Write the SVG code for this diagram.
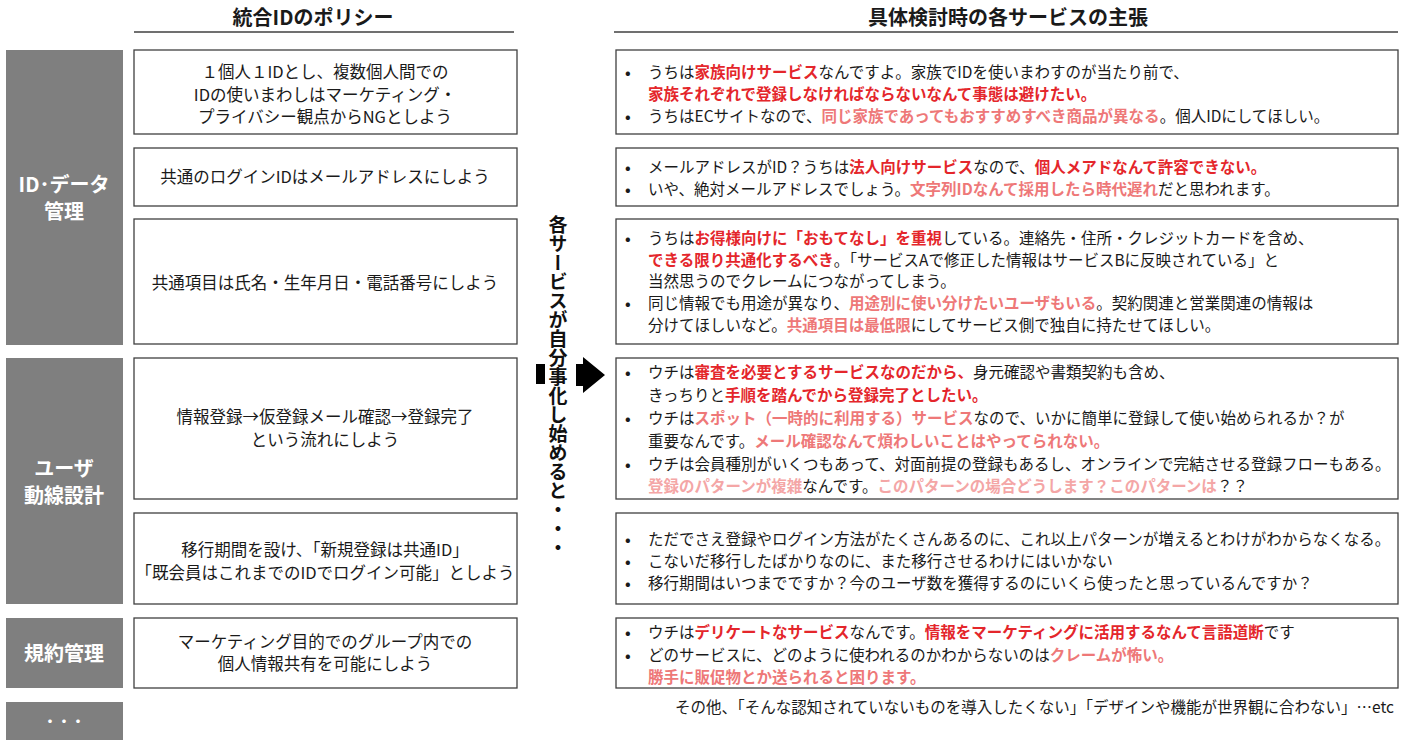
<svg xmlns="http://www.w3.org/2000/svg" width="1408" height="747" viewBox="0 0 1408 747">
<style>
text{font-family:"Noto Sans CJK JP","Liberation Sans",sans-serif}
.hd{font-size:20px;font-weight:bold;fill:#1a1a1a;text-anchor:middle}
.hl{stroke:#404040;stroke-width:1.5}
.cat{fill:#7f7f7f}
.ct{fill:#fff;font-weight:bold;font-size:20px;text-anchor:middle}
.box{fill:#fff;stroke:#404040;stroke-width:1.3}
.pt{font-size:16.5px;text-anchor:middle;fill:#1a1a1a}
.rt{font-size:15.5px;fill:#1a1a1a}
.bl{font-size:15px;font-weight:bold;fill:#1a1a1a}
.r{fill:#e4262b;font-weight:bold}
.p{fill:#ee7878;font-weight:bold}
.l{fill:#f4a6a6;font-weight:bold}
.vt{font-size:19px;font-weight:bold;fill:#111;writing-mode:vertical-rl}
</style>

<g id="headers">
<text class="hd" x="313" y="25">統合IDのポリシー</text>
<line class="hl" x1="134" y1="32" x2="514" y2="32"/>
<text class="hd" x="1008" y="25">具体検討時の各サービスの主張</text>
<line class="hl" x1="614" y1="32" x2="1398" y2="32"/>
</g>

<g id="cat-id">
<rect class="cat" x="6" y="50" width="117" height="295"/>
<text class="ct" x="64" y="192">ID･データ</text>
<text class="ct" x="64" y="219">管理</text>
</g>
<g id="cat-user">
<rect class="cat" x="6" y="358" width="117" height="246"/>
<text class="ct" x="64" y="476">ユーザ</text>
<text class="ct" x="64" y="503">動線設計</text>
</g>
<g id="cat-terms">
<rect class="cat" x="6" y="618" width="117" height="70"/>
<text class="ct" x="64" y="661">規約管理</text>
</g>
<g id="cat-more">
<rect class="cat" x="6" y="702" width="117" height="38"/>
<text class="ct" x="64" y="726" style="font-size:14px">・・・</text>
</g>

<g id="policy1">
<rect class="box" x="134" y="50" width="383" height="84"/>
<text class="pt" x="325" y="78">１個人１IDとし、複数個人間での</text>
<text class="pt" x="325" y="101">IDの使いまわしはマーケティング・</text>
<text class="pt" x="325" y="123">プライバシー観点からNGとしよう</text>
</g>
<g id="policy2">
<rect class="box" x="134" y="148" width="383" height="58"/>
<text class="pt" x="325" y="183">共通のログインIDはメールアドレスにしよう</text>
</g>
<g id="policy3">
<rect class="box" x="134" y="219" width="383" height="125"/>
<text class="pt" x="325" y="289">共通項目は氏名・生年月日・電話番号にしよう</text>
</g>
<g id="policy4">
<rect class="box" x="134" y="358" width="383" height="141"/>
<text class="pt" x="325" y="423">情報登録→仮登録メール確認→登録完了</text>
<text class="pt" x="325" y="446">という流れにしよう</text>
</g>
<g id="policy5">
<rect class="box" x="134" y="513" width="383" height="91"/>
<text class="pt" x="325" y="556">移行期間を設け、「新規登録は共通ID」</text>
<text class="pt" x="325" y="579">「既会員はこれまでのIDでログイン可能」としよう</text>
</g>
<g id="policy6">
<rect class="box" x="134" y="618" width="383" height="70"/>
<text class="pt" x="325" y="648">マーケティング目的でのグループ内での</text>
<text class="pt" x="325" y="670">個人情報共有を可能にしよう</text>
</g>

<g id="transition">
<text class="vt" x="558" y="215">各サービスが自分事化し始めると・・・</text>
</g>

<g id="connectors">
<rect x="536" y="364" width="9" height="20" fill="#000"/>
<path d="M576 364 H583 V357 L605 375 L583 393 V386 H576 Z" fill="#000"/>
</g>

<g id="claim1">
<rect class="box" x="616" y="50" width="782" height="84"/>
<text class="bl" x="625" y="78">•</text>
<text class="rt" x="648" y="78">うちは<tspan class="r">家族向けサービス</tspan>なんですよ。家族でIDを使いまわすのが当たり前で、</text>
<text class="rt" x="648" y="100"><tspan class="r">家族それぞれで登録しなければならないなんて事態は避けたい。</tspan></text>
<text class="bl" x="625" y="122">•</text>
<text class="rt" x="648" y="122">うちはECサイトなので、<tspan class="p">同じ家族であってもおすすめすべき商品が異なる</tspan>。個人IDにしてほしい。</text>
</g>
<g id="claim2">
<rect class="box" x="616" y="148" width="782" height="58"/>
<text class="bl" x="625" y="173">•</text>
<text class="rt" x="648" y="173">メールアドレスがID？うちは<tspan class="r">法人向けサービス</tspan>なので、<tspan class="r">個人メアドなんて許容できない。</tspan></text>
<text class="bl" x="625" y="195">•</text>
<text class="rt" x="648" y="195">いや、絶対メールアドレスでしょう。<tspan class="p">文字列IDなんて採用したら時代遅れ</tspan>だと思われます。</text>
</g>
<g id="claim3">
<rect class="box" x="616" y="219" width="782" height="125"/>
<text class="bl" x="625" y="244">•</text>
<text class="rt" x="648" y="244">うちは<tspan class="r">お得様向けに「おもてなし」を重視</tspan>している。連絡先・住所・クレジットカードを含め、</text>
<text class="rt" x="648" y="266"><tspan class="r">できる限り共通化するべき</tspan>。「サービスAで修正した情報はサービスBに反映されている」と</text>
<text class="rt" x="648" y="287">当然思うのでクレームにつながってしまう。</text>
<text class="bl" x="625" y="309">•</text>
<text class="rt" x="648" y="309">同じ情報でも用途が異なり、<tspan class="p">用途別に使い分けたいユーザもいる</tspan>。契約関連と営業関連の情報は</text>
<text class="rt" x="648" y="331">分けてほしいなど。<tspan class="p">共通項目は最低限</tspan>にしてサービス側で独自に持たせてほしい。</text>
</g>
<g id="claim4">
<rect class="box" x="616" y="358" width="782" height="141"/>
<text class="bl" x="625" y="378">•</text>
<text class="rt" x="648" y="378">ウチは<tspan class="r">審査を必要とするサービスなのだから、</tspan>身元確認や書類契約も含め、</text>
<text class="rt" x="648" y="401">きっちりと<tspan class="r">手順を踏んでから登録完了としたい。</tspan></text>
<text class="bl" x="625" y="424">•</text>
<text class="rt" x="648" y="424">ウチは<tspan class="p">スポット（一時的に利用する）サービス</tspan>なので、いかに簡単に登録して使い始められるか？が</text>
<text class="rt" x="648" y="447">重要なんです。<tspan class="p">メール確認なんて煩わしいことはやってられない。</tspan></text>
<text class="bl" x="625" y="470">•</text>
<text class="rt" x="648" y="470">ウチは会員種別がいくつもあって、対面前提の登録もあるし、オンラインで完結させる登録フローもある。</text>
<text class="rt" x="648" y="492"><tspan class="l">登録のパターンが複雑</tspan>なんです。<tspan class="l">このパターンの場合どうします？このパターンは</tspan>？？</text>
</g>
<g id="claim5">
<rect class="box" x="616" y="513" width="782" height="91"/>
<text class="bl" x="625" y="545">•</text>
<text class="rt" x="648" y="545">ただでさえ登録やログイン方法がたくさんあるのに、これ以上パターンが増えるとわけがわからなくなる。</text>
<text class="bl" x="625" y="567">•</text>
<text class="rt" x="648" y="567">こないだ移行したばかりなのに、また移行させるわけにはいかない</text>
<text class="bl" x="625" y="589">•</text>
<text class="rt" x="648" y="589">移行期間はいつまでですか？今のユーザ数を獲得するのにいくら使ったと思っているんですか？</text>
</g>
<g id="claim6">
<rect class="box" x="616" y="618" width="782" height="70"/>
<text class="bl" x="625" y="638">•</text>
<text class="rt" x="648" y="638">ウチは<tspan class="r">デリケートなサービス</tspan>なんです。<tspan class="r">情報をマーケティングに活用するなんて言語道断</tspan>です</text>
<text class="bl" x="625" y="661">•</text>
<text class="rt" x="648" y="661">どのサービスに、どのように使われるのかわからないのは<tspan class="p">クレームが怖い。</tspan></text>
<text class="rt" x="648" y="683"><tspan class="p">勝手に販促物とか送られると困ります。</tspan></text>
</g>

<g id="footer">
<text class="rt" x="1394" y="713" text-anchor="end">その他、「そんな認知されていないものを導入したくない」「デザインや機能が世界観に合わない」…etc</text>
</g>
</svg>
